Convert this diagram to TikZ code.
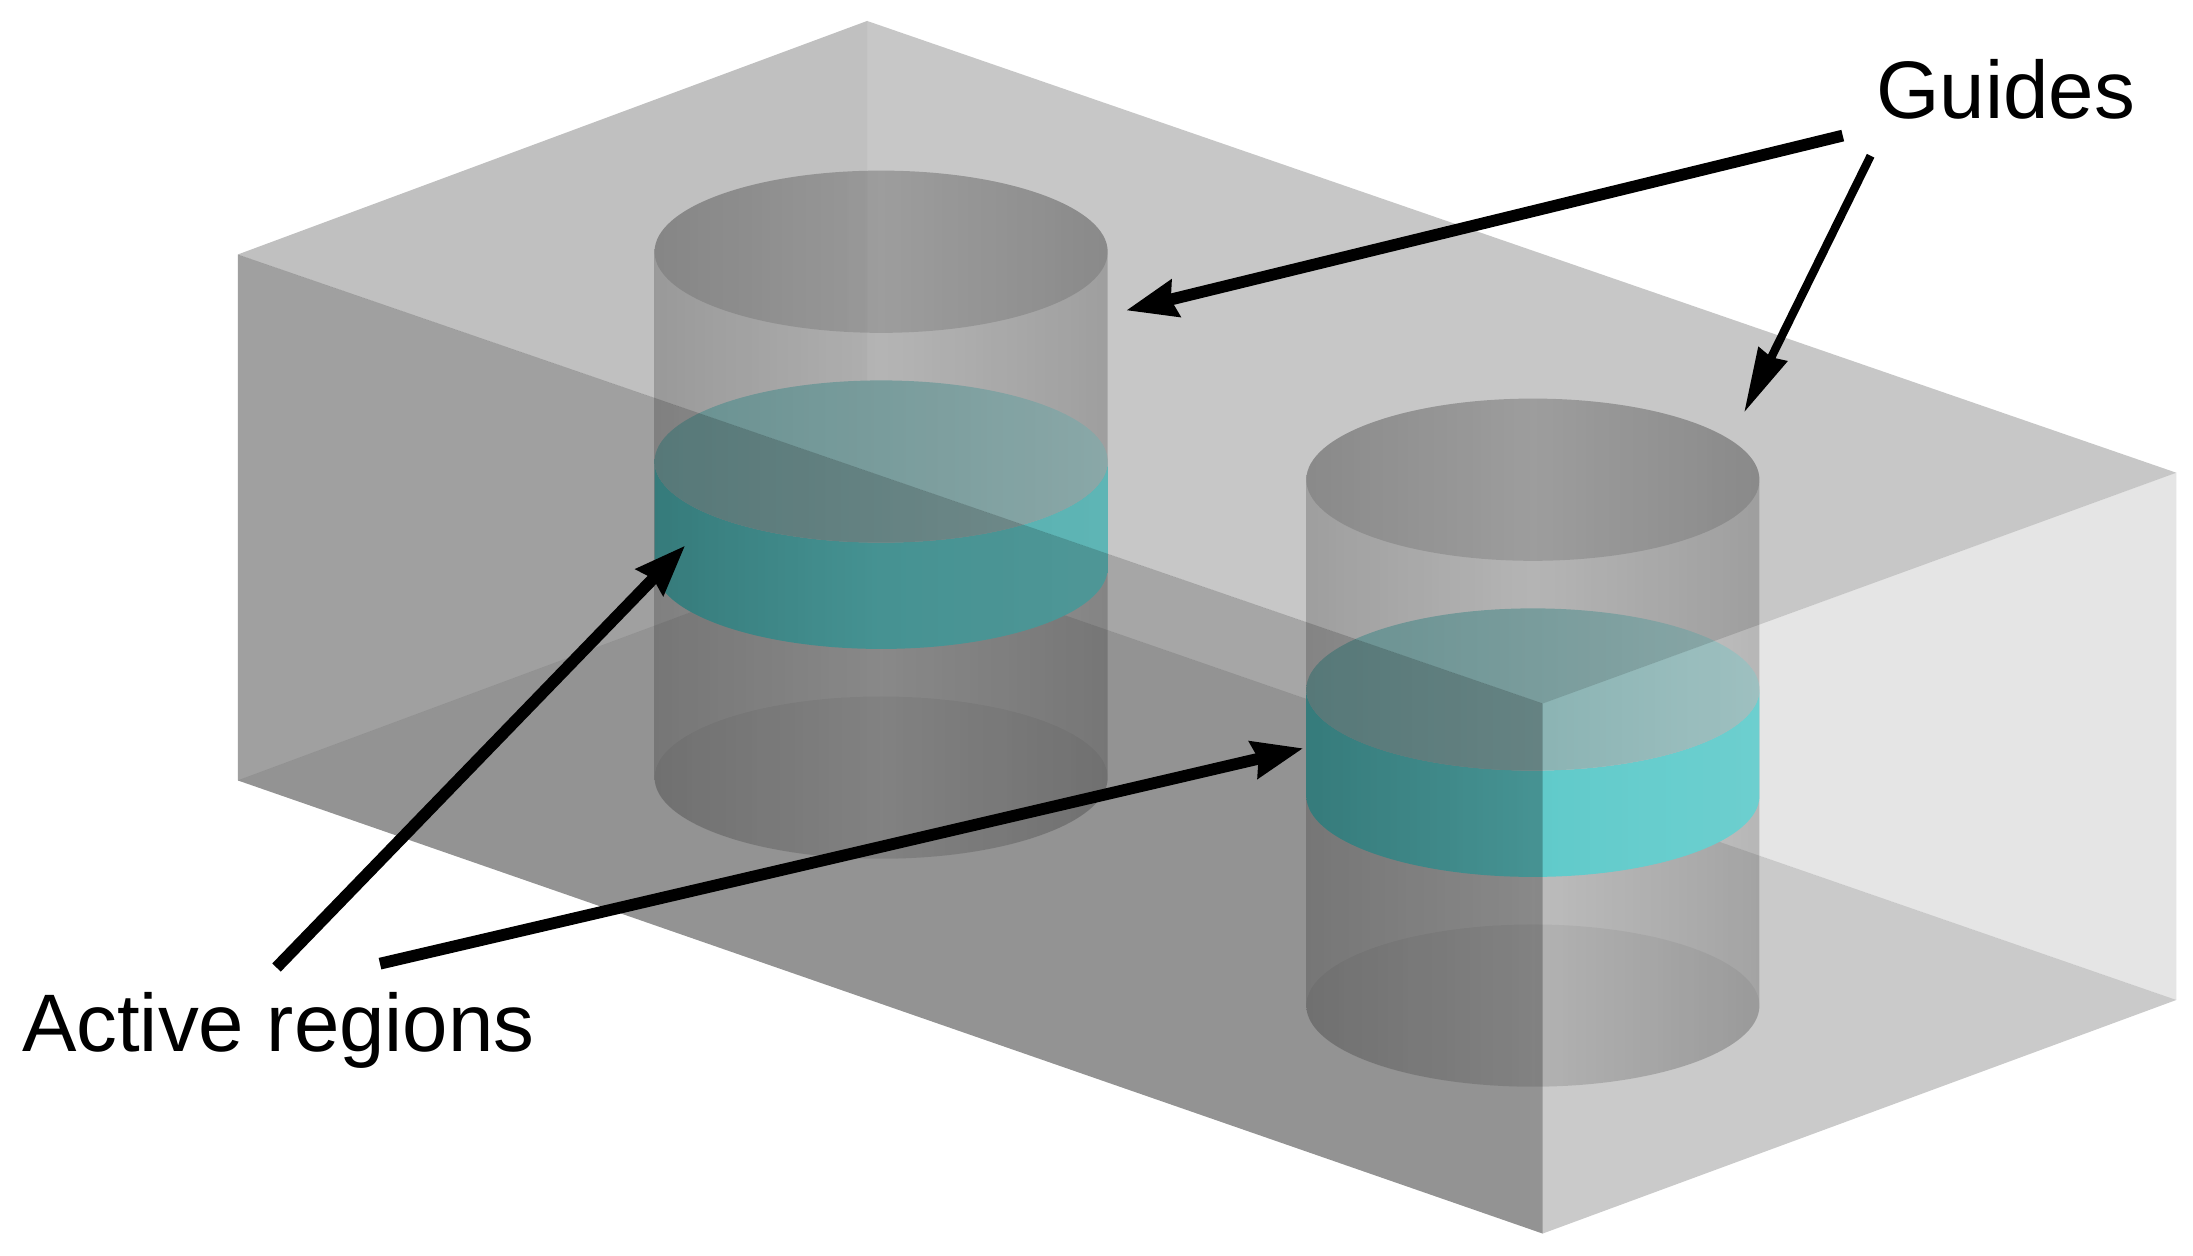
\documentclass[tikz,border=0pt]{standalone}
\usepackage{fontspec}
\setmainfont{Liberation Sans}
\usepackage{tikz}
\usetikzlibrary{arrows.meta}
\definecolor{guidedark}{HTML}{505050}
\definecolor{guidemid}{HTML}{A8A8A8}
\definecolor{bandleft}{HTML}{4FB4B4}
\definecolor{bandmid}{HTML}{66D6D6}
\definecolor{bandright}{HTML}{74DCDC}
\definecolor{capleft}{HTML}{7FB0B0}
\definecolor{capright}{HTML}{A8CCCC}
\tikzset{
    face/.style={fill=black, draw=none, fill opacity=#1},
    guide/.style={left color=guidedark, right color=guidedark, middle color=guidemid, opacity=0.3},
    band/.style={left color=bandleft, right color=bandright, middle color=bandmid},
    activecap/.style={left color=capleft, right color=capright},
    pointer/.style={line width=2.4pt, -{Stealth[length=0.36cm,width=0.26cm,inset=0.03cm]}},
    thinpointer/.style={line width=1.7pt, -{Stealth[length=0.46cm,width=0.22cm,inset=0.02cm]}},
    label/.style={font=\fontsize{16.6}{20}\selectfont, inner sep=0pt}
}
\begin{document}
\begin{tikzpicture}
    \useasboundingbox (0,0) rectangle (15.68,8.98);
    % back walls and floor
    \fill[face=0.087] (6.20,8.83) -- (1.70,7.16) -- (1.70,3.40) -- (6.20,5.07) -- cycle;
    \fill[face=0.05] (6.20,8.83) -- (15.56,5.60) -- (15.56,1.83) -- (6.20,5.07) -- cycle;
    \fill[face=0.16] (1.70,3.40) -- (6.20,5.07) -- (15.56,1.83) -- (11.03,0.16) -- cycle;
    % guides with their active regions
    \foreach \x/\y in {6.30/7.18, 10.96/5.55} {
        \shade[guide] (\x-1.62,\y) -- (\x-1.62,\y-3.76) arc[start angle=180,end angle=360,x radius=1.62,y radius=0.58]
            -- (\x+1.62,\y) arc[start angle=0,end angle=180,x radius=1.62,y radius=0.58] -- cycle;
        \fill[fill=black, fill opacity=0.13] (\x,\y) ellipse [x radius=1.62,y radius=0.58];
        \fill[fill=black, fill opacity=0.05] (\x,\y-3.76) ellipse [x radius=1.62,y radius=0.58];
        \shade[band] (\x-1.62,\y-1.50) -- (\x-1.62,\y-2.26) arc[start angle=180,end angle=360,x radius=1.62,y radius=0.58]
            -- (\x+1.62,\y-1.50) arc[start angle=0,end angle=-180,x radius=1.62,y radius=0.58] -- cycle;
        \shade[activecap] (\x,\y-1.50) ellipse [x radius=1.62,y radius=0.58];
    }
    % top and front faces
    \fill[face=0.175] (6.20,8.83) -- (1.70,7.16) -- (11.03,3.95) -- (15.56,5.60) -- cycle;
    \fill[face=0.313] (1.70,7.16) -- (11.03,3.95) -- (11.03,0.16) -- (1.70,3.40) -- cycle;
    \fill[face=0.055] (11.03,3.95) -- (15.56,5.60) -- (15.56,1.83) -- (11.03,0.16) -- cycle;
    % labels and arrows
    \node[label, anchor=base] (guides) at (14.34,8.13) {Guides};
    \node[label, anchor=base] (active) at (1.99,1.46) {Active regions};
    \coordinate (guidetipa) at (8.05,6.76);
    \coordinate (guidetipb) at (12.47,6.03);
    \coordinate (activetipa) at (4.90,5.08);
    \coordinate (activetipb) at (9.32,3.63);
    \draw[pointer, shorten <=0.24cm] ([yshift=-0.05cm]guides.south west) -- (guidetipa);
    \draw[thinpointer, shorten <=0.28cm] ([xshift=0.09cm]guides.south west) -- (guidetipb);
    \draw[pointer, shorten <=0.24cm] ([xshift=-0.18cm]active.north) -- (activetipa);
    \draw[pointer, shorten <=0.88cm] ([xshift=-0.13cm]active.north) -- (activetipb);
\end{tikzpicture}
\end{document}
